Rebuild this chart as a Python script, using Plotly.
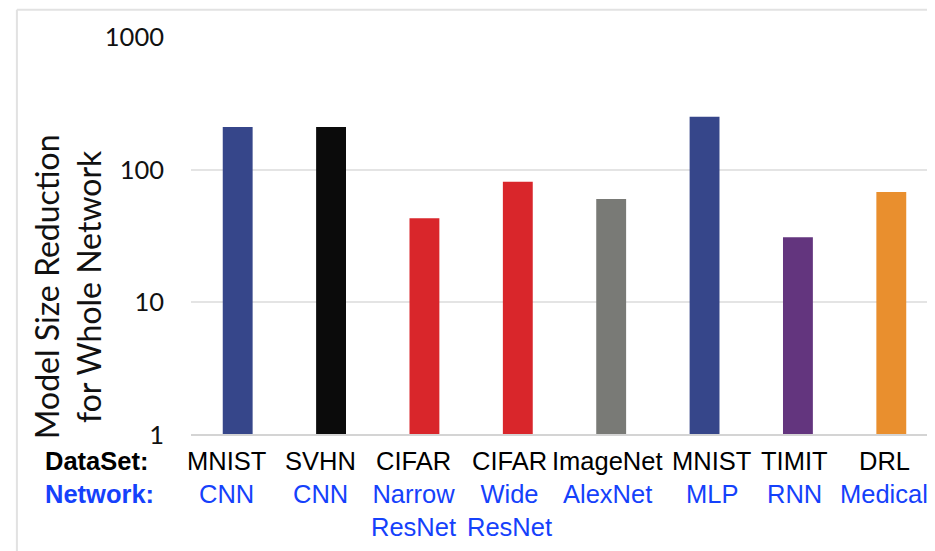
import plotly.graph_objects as go

# ---- data ----
datasets = ["MNIST", "SVHN", "CIFAR", "CIFAR", "ImageNet", "MNIST", "TIMIT", "DRL"]
networks = ["CNN", "CNN", "Narrow<br>ResNet", "Wide<br>ResNet", "AlexNet", "MLP", "RNN", "Medical"]
reduction = [210, 210, 43, 81, 60, 250, 31, 68]
y_ticks = [1, 10, 100, 1000]
y_tick_text = ["1", "10", "100", "1000"]

# ---- style ----
bar_colors = ["#36468A", "#0B0B0B", "#D9262B", "#D9262B", "#797A76", "#36468A", "#63357E", "#E98F2E"]
label_xshift = [-11, -11, -11, -8, -4, 7, -3, -7]   # small pixel nudges of the category labels
blue_text = "#1541fb"
label_font = "Liberation Sans, Arial"

x_idx = list(range(len(datasets)))

fig = go.Figure()
fig.add_trace(go.Bar(
    x=x_idx, y=reduction, width=0.32,
    marker=dict(color=bar_colors, line=dict(width=0)),
    showlegend=False, hoverinfo="skip",
))

annotations = []
for i, (d, n) in enumerate(zip(datasets, networks)):
    annotations.append(dict(x=i, y=0, xref="x", yref="paper", yanchor="top", xanchor="center",
                            xshift=label_xshift[i], yshift=-10, text=d, showarrow=False,
                            font=dict(family=label_font, size=25.5, color="#000000")))
    annotations.append(dict(x=i, y=0, xref="x", yref="paper", yanchor="top", xanchor="center",
                            xshift=label_xshift[i], yshift=-43, text=n, showarrow=False,
                            font=dict(family=label_font, size=25.5, color=blue_text)))

annotations.append(dict(x=-0.199, y=0, xref="paper", yref="paper", yanchor="top", xanchor="left",
                        yshift=-10, text="<b>DataSet:</b>", showarrow=False,
                        font=dict(family=label_font, size=25.5, color="#000000")))
annotations.append(dict(x=-0.199, y=0, xref="paper", yref="paper", yanchor="top", xanchor="left",
                        yshift=-43, text="<b>Network:</b>", showarrow=False,
                        font=dict(family=label_font, size=25.5, color=blue_text)))

annotations.append(dict(x=-0.165, y=0.372, xref="paper", yref="paper", xanchor="center", yanchor="middle",
                        text="Model Size Reduction<br>for Whole Network", textangle=-90, showarrow=False,
                        font=dict(family="Lato", size=32, color="#111111")))

fig.update_layout(
    width=927, height=543,
    margin=dict(l=183, r=0, t=29, b=116),
    paper_bgcolor="white", plot_bgcolor="white",
    bargap=0.68,
    xaxis=dict(range=[-0.5, 7.468], showticklabels=False, ticks="", showgrid=False,
               showline=False, zeroline=False, fixedrange=True),
    yaxis=dict(type="log", range=[0, 3], tickvals=y_ticks, ticktext=y_tick_text,
               showgrid=True, gridcolor="#E4E4E4", gridwidth=1.5, zeroline=False,
               showline=False, ticks="", ticklabelstandoff=26,
               tickfont=dict(family="Lato", size=25.5, color="#111111")),
    annotations=annotations,
    shapes=[
        dict(type="line", xref="paper", yref="paper", x0=0, x1=1, y0=0, y1=0,
             line=dict(color="#D4D4D4", width=2)),
        dict(type="line", xref="paper", yref="paper", x0=-0.234, x1=-0.234, y0=-0.4, y1=1.0687,
             line=dict(color="#E2E2E2", width=2)),
        dict(type="line", xref="paper", yref="paper", x0=-0.234, x1=1.1, y0=1.0687, y1=1.0687,
             line=dict(color="#E2E2E2", width=2)),
    ],
)

fig.write_html("out.html")
